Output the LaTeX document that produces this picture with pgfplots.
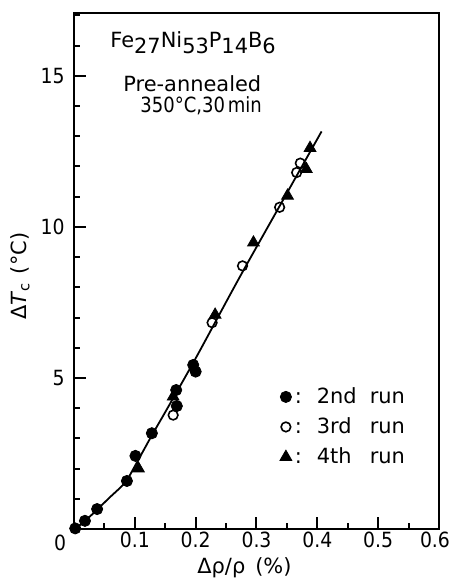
\documentclass[border=0pt]{standalone}
\usepackage{fontspec}
\setmainfont{DejaVu Sans}
\newfontfamily\condfont{DejaVu Sans Condensed}
\usepackage{pgfplots}
\pgfplotsset{compat=1.18}

\pgfplotstableread{
x y
0.002 0.02
0.018 0.27
0.038 0.66
0.087 1.59
0.101 2.42
0.128 3.17
0.168 4.60
0.169 4.07
0.196 5.43
0.200 5.21
}\secondrun
\pgfplotstableread{
x y
0.163 3.77
0.227 6.83
0.277 8.71
0.338 10.65
0.366 11.80
0.372 12.11
}\thirdrun
\pgfplotstableread{
x y
0.106 2.00
0.163 4.38
0.232 7.09
0.295 9.48
0.351 11.03
0.382 11.91
0.388 12.61
}\fourthrun

\begin{document}
\fontsize{10.5}{12}\selectfont
\begin{tikzpicture}
\path[use as bounding box] (-37bp,-28bp) rectangle (188bp,264.5bp);
\begin{axis}[
  at={(0,0)}, anchor=south west,
  scale only axis, width=182.5bp, height=258bp,
  xmin=0, xmax=0.6, ymin=0, ymax=17.08,
  clip=false,
  axis line style={line width=1.3bp},
  every tick/.style={black, line width=1bp},
  tick align=inside,
  xtick pos=left, ytick pos=left,
  xtick={0.1,0.2,0.3,0.4,0.5,0.6},
  xticklabels={0.1,0.2,0.3,0.4,0.5,\hspace*{-4bp}0.6},
  ytick={5,10,15}, yticklabels={5,10,15},
  minor xtick={0.05,0.15,0.25,0.35,0.45,0.55},
  minor ytick={1,2,3,4,6,7,8,9,11,12,13,14,16,17},
  major tick length=6bp, minor tick length=3bp,
  tick label style={font=\condfont\fontsize{10.5}{12}\selectfont},
  xticklabel style={yshift=2bp},
  yticklabel style={xshift=-1bp},
  xlabel={Δρ/ρ\hspace{5bp}(\%)},
  xlabel style={at={(axis description cs:0.467,-0.075)}, anchor=center, font=\fontsize{10.5}{12}\selectfont},
  ylabel={Δ\textit{T}\textsubscript{c}\hspace{4bp}(°C)},
  ylabel style={at={(axis description cs:-0.148,0.49)}, anchor=center, font=\fontsize{10.5}{12}\selectfont},
  legend style={at={(axis cs:0.338,4.8)}, anchor=north west, draw=none, fill=none,
    inner sep=0pt, row sep=2.5bp, font=\fontsize{10.5}{12}\selectfont,
    nodes={inner sep=1.5bp}},
  legend cell align=left,
  legend image code/.code={\draw[mark repeat=2,mark phase=2,#1] plot coordinates {(0bp,0bp)(3bp,0bp)(6bp,0bp)};},
]
\addplot[forget plot, smooth, line width=0.9bp] coordinates {
(0.002,0) (0.02,0.3) (0.04,0.68) (0.06,1.07) (0.075,1.35) (0.087,1.62)
(0.1,2.08) (0.128,3.1) (0.15,3.87) (0.2,5.65) (0.27,8.25) (0.34,10.76) (0.407,13.16)};
\addplot[only marks, mark=*, mark size=2.8bp, fill=black] table {\secondrun};
\addlegendentry{:\hspace{7.5bp}\makebox[26.5bp][l]{2nd}run}
\addplot[only marks, mark=o, mark size=2.4bp, line width=0.8bp, fill=white, mark options={fill=white}] table {\thirdrun};
\addlegendentry{:\hspace{7.5bp}\makebox[26.5bp][l]{3rd}run}
\addplot[only marks, mark=triangle*, mark size=3.4bp, fill=black] table {\fourthrun};
\addlegendentry{:\hspace{7.5bp}\makebox[26.5bp][l]{4th}run}
\node[anchor=center] at (axis cs:0,0) [xshift=-7bp, yshift=-7bp] {\condfont 0};
\node[anchor=base west, inner sep=0pt] at (axis cs:0.0592,15.93) {Fe\raisebox{-0.5ex}{27}Ni\raisebox{-0.5ex}{53}P\raisebox{-0.5ex}{14}B\raisebox{-0.5ex}{6}};
\node[anchor=base west, inner sep=0pt] at (axis cs:0.0806,14.48) {Pre-annealed};
\node[anchor=base west, inner sep=0pt] at (axis cs:0.1086,13.77) {\scalebox{0.86}[1]{350°C,30\,min}};
\end{axis}
\end{tikzpicture}
\end{document}
